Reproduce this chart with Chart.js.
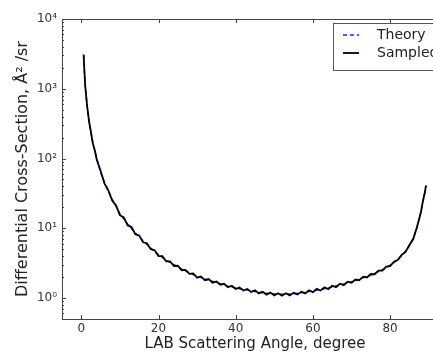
<!DOCTYPE html>
<html>
<head>
<meta charset="utf-8">
<script src="https://cdn.jsdelivr.net/npm/chart.js@4/dist/chart.umd.min.js"></script>
<style>
  html, body { margin: 0; padding: 0; background: #fff; overflow: hidden; }
</style>
</head>
<body>
<canvas id="dcsChart" width="433" height="353"></canvas>
<script>
// scattering angles (degree)
const angles = [0.6, 0.8, 1, 1.5, 2, 2.5, 3, 3.5, 4, 5, 6, 7, 8, 9,
  10, 11, 12, 13, 14, 15, 16, 17, 18, 19, 20, 21, 22, 23, 24, 25, 26, 27, 28, 29,
  30, 31, 32, 33, 34, 35, 36, 37, 38, 39, 40, 41, 42, 43, 44, 45, 46, 47, 48, 49,
  50, 51, 52, 53, 54, 55, 56, 57, 58, 59, 60, 61, 62, 63, 64, 65, 66, 67, 68, 69,
  70, 71, 72, 73, 74, 75, 76, 77, 78, 79, 80, 81, 82, 83, 84, 85, 86, 87, 88,
  88.5, 89, 89.3];

const theory = [3000, 1800, 1150, 560, 350, 235, 168, 128, 100, 64, 45, 34, 26, 20.5,
  16, 13.7, 11.5, 9.9, 8.6, 7.5, 6.6, 5.85, 5.2, 4.65, 4.2, 3.83, 3.5, 3.23, 3.0, 2.78, 2.6, 2.44, 2.3, 2.17,
  2.05, 1.96, 1.88, 1.80, 1.73, 1.66, 1.60, 1.54, 1.48, 1.44, 1.40, 1.36, 1.33, 1.30, 1.27, 1.24, 1.21, 1.19, 1.17, 1.155,
  1.14, 1.135, 1.13, 1.13, 1.14, 1.15, 1.17, 1.19, 1.21, 1.24, 1.27, 1.30, 1.33, 1.36, 1.40, 1.44, 1.49, 1.54, 1.59, 1.65,
  1.71, 1.78, 1.86, 1.95, 2.04, 2.14, 2.26, 2.40, 2.55, 2.73, 2.95, 3.22, 3.6, 4.05, 4.7, 5.6, 7.2, 10.3, 17.5,
  24, 33, 41];

const sampled = [3100, 1830, 1120, 575, 342, 240, 163, 131, 97, 66, 44, 35, 25, 21.2,
  15.4, 14.3, 11.0, 10.4, 8.2, 7.9, 6.3, 6.1, 5.0, 4.85, 4.0, 3.98, 3.36, 3.36, 2.88, 2.9, 2.5, 2.53, 2.22, 2.25,
  1.96, 2.04, 1.8, 1.87, 1.66, 1.72, 1.55, 1.6, 1.43, 1.5, 1.35, 1.41, 1.28, 1.35, 1.22, 1.29, 1.16, 1.23, 1.12, 1.2,
  1.09, 1.17, 1.08, 1.17, 1.09, 1.19, 1.12, 1.23, 1.16, 1.29, 1.21, 1.35, 1.28, 1.42, 1.34, 1.5, 1.43, 1.6, 1.53, 1.71,
  1.65, 1.84, 1.79, 2.02, 1.97, 2.21, 2.19, 2.47, 2.47, 2.82, 2.86, 3.32, 3.5, 4.15, 4.58, 5.75, 7.0, 10.6, 17.1,
  24.5, 32.5, 41];

const xTicks = [0, 20, 40, 60, 80];
const yTicks = [1, 10, 100, 1000, 10000];
const yTickLabels = ['10\u2070', '10\u00b9', '10\u00b2', '10\u00b3', '10\u2074'];

const toPoints = (xs, ys) => xs.map((x, i) => ({ x: x, y: ys[i] }));

// the original figure is cropped: its right spine lies past the picture edge
const cropRight = {
  id: 'cropRight',
  afterLayout(chart) {
    const a = chart.chartArea;
    a.right = chart.width + 15;
    a.width = a.right - a.left;
    const xs = chart.scales.x;
    xs.right = a.right;
    xs.width = a.width;
    xs.configure();
  }
};

// matplotlib-style frame with inward ticks
const frameTicks = {
  id: 'frameTicks',
  afterDatasetsDraw(chart) {
    const { ctx, chartArea: a, scales } = chart;
    const xs = scales.x, ys = scales.y;
    ctx.save();
    ctx.strokeStyle = '#444';
    ctx.lineWidth = 1;
    ctx.strokeRect(a.left + 0.5, a.top + 0.5, a.right - a.left, a.bottom - a.top);
    ctx.beginPath();
    xTicks.forEach(v => {
      const px = Math.round(xs.getPixelForValue(v)) + 0.5;
      ctx.moveTo(px, a.bottom); ctx.lineTo(px, a.bottom - 4);
      ctx.moveTo(px, a.top); ctx.lineTo(px, a.top + 4);
    });
    yTicks.forEach(v => {
      const py = Math.round(ys.getPixelForValue(v)) + 0.5;
      ctx.moveTo(a.left, py); ctx.lineTo(a.left + 4, py);
    });
    [0.1, 1, 10, 100, 1000].forEach(d => {
      for (let m = 2; m <= 9; m++) {
        const v = d * m;
        if (v < ys.min || v > ys.max) continue;
        const py = Math.round(ys.getPixelForValue(v)) + 0.5;
        ctx.moveTo(a.left, py); ctx.lineTo(a.left + 2, py);
      }
    });
    ctx.stroke();
    ctx.restore();
  }
};

// boxed legend in the upper right corner
const boxLegend = {
  id: 'boxLegend',
  afterDraw(chart) {
    const { ctx, chartArea: a } = chart;
    const left = a.right - 115, top = a.top + 4;
    ctx.save();
    ctx.fillStyle = '#fff';
    ctx.strokeStyle = '#555';
    ctx.lineWidth = 1;
    ctx.fillRect(left, top, 140, 47);
    ctx.strokeRect(left + 0.5, top + 0.5, 140, 47);
    ctx.font = '14px "DejaVu Sans"';
    ctx.textBaseline = 'middle';
    chart.data.datasets.forEach((ds, i) => {
      const y = top + 12 + i * 18;
      ctx.beginPath();
      ctx.setLineDash(ds.borderDash || []);
      ctx.strokeStyle = ds.borderColor;
      ctx.lineWidth = ds.borderWidth;
      ctx.moveTo(left + 10, y);
      ctx.lineTo(left + 26, y);
      ctx.stroke();
      ctx.setLineDash([]);
      ctx.fillStyle = '#222';
      ctx.fillText(ds.label, left + 44, y);
    });
    ctx.restore();
  }
};

new Chart(document.getElementById('dcsChart'), {
  type: 'scatter',
  data: {
    datasets: [
      {
        label: 'Theory',
        data: toPoints(angles, theory),
        showLine: true,
        borderColor: '#2020ff',
        borderWidth: 1.5,
        borderDash: [4, 3],
        pointRadius: 0,
        order: 2
      },
      {
        label: 'Sampled',
        data: toPoints(angles, sampled),
        showLine: true,
        borderColor: '#000000',
        borderWidth: 1.8,
        pointRadius: 0,
        order: 1
      }
    ]
  },
  options: {
    responsive: false,
    animation: false,
    devicePixelRatio: 1,
    layout: { padding: { left: 13, top: 19, right: 0, bottom: 0 } },
    plugins: {
      legend: { display: false },
      tooltip: { enabled: false }
    },
    scales: {
      x: {
        type: 'linear',
        min: -5,
        max: 95,
        afterBuildTicks: s => { s.ticks = xTicks.map(v => ({ value: v })); },
        afterFit: s => { s.height = 34; },
        grid: { display: false, drawTicks: false },
        border: { display: false },
        ticks: {
          padding: 3,
          color: '#333',
          font: { family: 'DejaVu Sans', size: 12 }
        },
        title: {
          display: true,
          text: 'LAB Scattering Angle, degree',
          color: '#222',
          padding: 0,
          font: { family: 'DejaVu Sans', size: 15 }
        }
      },
      y: {
        type: 'logarithmic',
        min: 0.5,
        max: 10000,
        afterBuildTicks: s => { s.ticks = yTicks.map(v => ({ value: v })); },
        afterFit: s => { s.width = 49; },
        grid: { display: false, drawTicks: false },
        border: { display: false },
        ticks: {
          padding: 5,
          color: '#333',
          font: { family: 'DejaVu Sans', size: 12 },
          callback: v => yTickLabels[yTicks.indexOf(v)]
        },
        title: {
          display: true,
          text: 'Differential Cross-Section, \u00c5\u00b2 /sr',
          color: '#222',
          padding: 0,
          font: { family: 'DejaVu Sans', size: 16 }
        }
      }
    }
  },
  plugins: [cropRight, frameTicks, boxLegend]
});
</script>
</body>
</html>
